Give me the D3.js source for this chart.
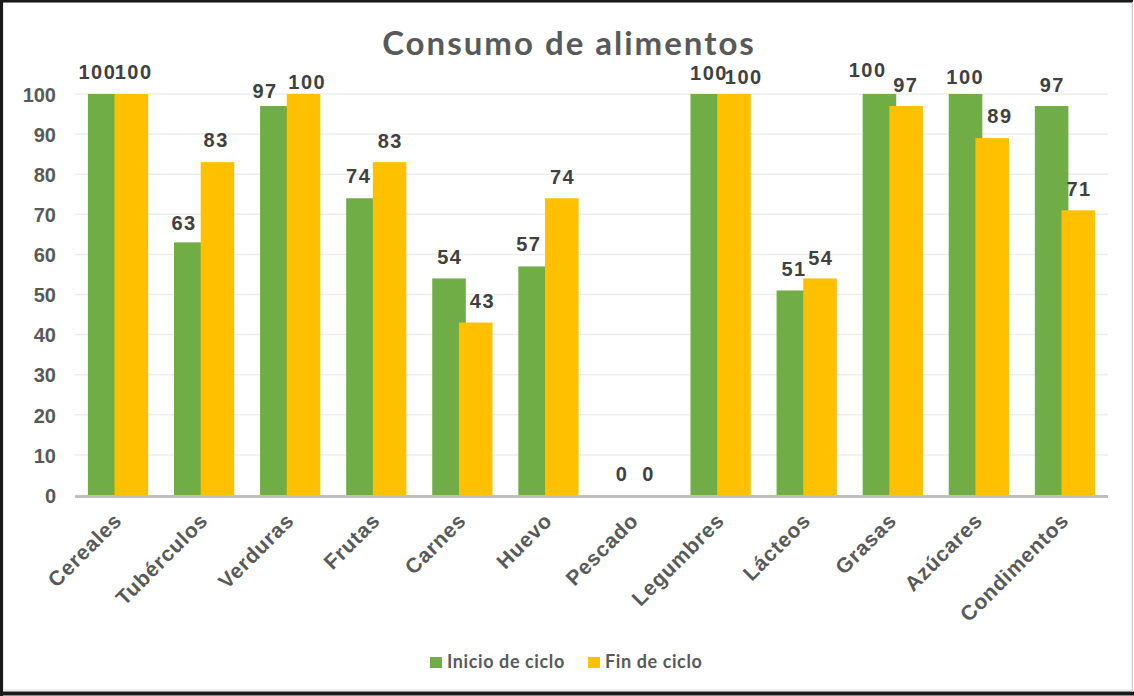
<!DOCTYPE html>
<html>
<head>
<meta charset="utf-8">
<script src="https://cdn.jsdelivr.net/npm/d3@7/dist/d3.min.js"></script>
<style>
  html, body { margin: 0; padding: 0; background: #fff; }
  svg { display: block; }
</style>
</head>
<body>
<svg id="chart" width="1134" height="696"></svg>
<script>
// Food groups and share of consumption (%) at the start and end of the cycle
const categories = ["Cereales", "Tubérculos", "Verduras", "Frutas", "Carnes", "Huevo",
                    "Pescado", "Legumbres", "Lácteos", "Grasas", "Azúcares", "Condimentos"];
const inicioCiclo = [100, 63, 97, 74, 54, 57, 0, 100, 51, 100, 100, 97];
const finCiclo    = [100, 83, 100, 83, 43, 74, 0, 100, 54, 97, 89, 71];
const seriesNames = ["Inicio de ciclo", "Fin de ciclo"];
const yTicks = [0, 10, 20, 30, 40, 50, 60, 70, 80, 90, 100];

const colors = ["#70AD47", "#FFC000"];
const W = 1134, H = 696;
const plot = { left: 75, right: 1108, top: 94, bottom: 495 };

const svg = d3.select("#chart");

// frame
svg.append("rect").attr("x", 3).attr("y", 2).attr("width", 1129).attr("height", 688)
  .attr("fill", "#fff").attr("stroke", "#d9d9d9").attr("stroke-width", 1);
svg.append("path").attr("d", `M1.5,${H} V1 H${W - 1}`).attr("fill", "none")
  .attr("stroke", "#1a1a1a").attr("stroke-width", 3);
svg.append("line").attr("x1", 0).attr("x2", W).attr("y1", 693.5).attr("y2", 693.5)
  .attr("stroke", "#1a1a1a").attr("stroke-width", 4);
svg.append("line").attr("x1", 1132.5).attr("x2", 1132.5).attr("y1", 2).attr("y2", 692)
  .attr("stroke", "#cfcfcf").attr("stroke-width", 1);

const x = d3.scaleBand().domain(categories).range([plot.left, plot.right]).padding(0);
const y = d3.scaleLinear().domain([0, 100]).range([plot.bottom, plot.top]);

const bw = x.bandwidth();
const barW = bw * 0.39;
const groupW = bw * 0.70;

// gridlines
svg.append("g").selectAll("line").data(yTicks.filter(d => d > 0)).join("line")
  .attr("x1", plot.left).attr("x2", plot.right)
  .attr("y1", d => y(d)).attr("y2", d => y(d))
  .attr("stroke", "#ededed").attr("stroke-width", 1.5);

// y axis labels
const yAxis = d3.axisLeft(y).tickValues(yTicks).tickSize(0).tickPadding(0);
const gy = svg.append("g").attr("transform", `translate(${plot.left - 19},0)`).call(yAxis);
gy.select(".domain").remove();
gy.selectAll("text")
  .attr("font-family", "'Liberation Sans', Arial, sans-serif")
  .attr("font-weight", "bold").attr("font-size", 20).attr("fill", "#595959")
  .attr("dy", "0.36em");

const series = [inicioCiclo, finCiclo];
const barX = (cat, s) => x(cat) + bw / 2 - groupW / 2 + s * (groupW - barW);

// bars
series.forEach((vals, s) => {
  svg.append("g").selectAll("rect").data(categories).join("rect")
    .attr("x", d => barX(d, s))
    .attr("y", (d, i) => y(vals[i]))
    .attr("width", barW)
    .attr("height", (d, i) => y(0) - y(vals[i]))
    .attr("fill", colors[s]);
});

// baseline
svg.append("line").attr("x1", plot.left).attr("x2", plot.right)
  .attr("y1", plot.bottom + 1.5).attr("y2", plot.bottom + 1.5)
  .attr("stroke", "#bfbfbf").attr("stroke-width", 3);

// value labels: [horizontal shift, gap above bar] for labels moved apart where they crowd
const labelNudge = {
  "Cereales|0": [-8, 15],   "Cereales|1": [1.5, 15],
  "Tubérculos|0": [-7.5, 12.5], "Tubérculos|1": [-2, 15],
  "Verduras|0": [-12.5, 8], "Verduras|1": [3, 5],
  "Frutas|0": [-5, 15],
  "Carnes|1": [6, 14.5],
  "Huevo|0": [-7, 15],
  "Legumbres|0": [1, 14],   "Legumbres|1": [9, 10],
  "Lácteos|1": [0, 13],
  "Grasas|0": [-12.5, 17],  "Grasas|1": [-1, 14],
  "Azúcares|0": [-1, 10],   "Azúcares|1": [7, 15]
};
series.forEach((vals, s) => {
  const nudge = d => labelNudge[d + "|" + s] ?? [0, 14.5];
  svg.append("g").selectAll("text").data(categories).join("text")
    .attr("x", d => barX(d, s) + barW / 2 + nudge(d)[0] + 0.75)
    .attr("y", (d, i) => y(vals[i]) - nudge(d)[1])
    .attr("text-anchor", "middle")
    .attr("font-family", "'Liberation Sans', Arial, sans-serif")
    .attr("font-weight", "bold").attr("font-size", 20).attr("fill", "#404040")
    .attr("letter-spacing", 1.5)
    .text((d, i) => vals[i]);
});

// category labels
const xAxis = d3.axisBottom(x).tickSize(0).tickPadding(0);
const gx = svg.append("g").attr("transform", `translate(0,${plot.bottom})`).call(xAxis);
gx.select(".domain").remove();
gx.selectAll("text")
  .attr("font-family", "'Liberation Sans', Arial, sans-serif")
  .attr("font-weight", "bold").attr("font-size", 21).attr("fill", "#595959")
  .attr("letter-spacing", 0.8)
  .attr("text-anchor", "end").attr("dy", 0).attr("y", 0)
  .attr("transform", `translate(5,27) rotate(-45)`);

// title
svg.append("text").attr("x", 569).attr("y", 55)
  .attr("text-anchor", "middle")
  .attr("font-family", "Lato, 'Open Sans', sans-serif")
  .attr("font-weight", "bold").attr("font-size", 33).attr("fill", "#595959")
  .attr("letter-spacing", 2)
  .text("Consumo de alimentos");

// legend
const legend = svg.append("g").attr("transform", "translate(430,662)");
const legendX = [0, 158];
seriesNames.forEach((name, s) => {
  const g = legend.append("g").attr("transform", `translate(${legendX[s]},0)`);
  g.append("rect").attr("x", 0).attr("y", -5).attr("width", 12).attr("height", 11).attr("fill", colors[s]);
  g.append("text").attr("x", 17).attr("y", 6)
    .attr("font-family", "Lato, 'Open Sans', sans-serif")
    .attr("font-weight", "bold").attr("font-size", 18).attr("fill", "#595959")
    .attr("letter-spacing", 0.6)
    .text(name);
});
</script>
</body>
</html>
